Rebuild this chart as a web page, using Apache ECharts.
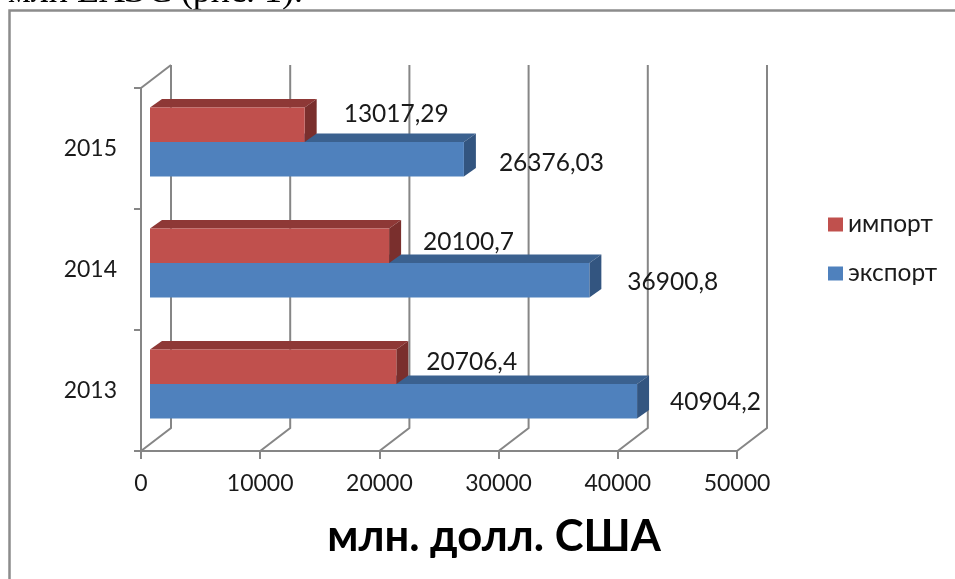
<!DOCTYPE html>
<html><head><meta charset="utf-8">
<style>html,body{margin:0;padding:0;background:#fff}#c{width:955px;height:579px}</style>
<script src="https://cdn.jsdelivr.net/npm/echarts@6/dist/echarts.min.js"></script>
</head><body><div id="c"></div>
<script>
const years = ['2013', '2014', '2015'];
const importValues = [20706.4, 20100.7, 13017.29];
const exportValues = [40904.2, 36900.8, 26376.03];
const importLabels = ['20706,4', '20100,7', '13017,29'];
const exportLabels = ['40904,2', '36900,8', '26376,03'];
const xTicks = [0, 10000, 20000, 30000, 40000, 50000];
const seriesNames = ['импорт', 'экспорт'];

const FONT = 'Lato, "Open Sans", sans-serif';
const GRID = '#868686';
// label nudges, px from the end of the bar's front face
const importNudge = [[30, -5], [34, -4], [39, -11]];
const exportNudge = [[33, 1], [38, 2], [35, 4]];

function barRenderer(cols, side, nudges, labels) {
  const DX = 9, DY = -6.5, SX = 12, SY = -8.5, H = 34.5;
  return function (params, api) {
    const i = api.value(1);
    const base = api.coord([0, i]);
    const end = api.coord([api.value(0), i]);
    const top = base[1] + DY + (side === 0 ? -H : 0);
    const x0 = base[0] + DX, x1 = end[0] + DX - 0.5, bot = top + H;
    const n = nudges[i];
    return {
      type: 'group',
      children: [
        { type: 'polygon', shape: { points: [[x0, top], [x1, top], [x1 + SX, top + SY], [x0 + SX, top + SY]] }, style: { fill: cols.top } },
        { type: 'polygon', shape: { points: [[x1, top], [x1 + SX, top + SY], [x1 + SX, bot + SY], [x1, bot]] }, style: { fill: cols.side } },
        { type: 'rect', shape: { x: x0, y: top, width: x1 - x0, height: H }, style: { fill: cols.face } },
        { type: 'text', z2: 50, style: { x: x1 + n[0], y: (top + bot) / 2 + n[1], text: labels[i], font: '24.5px ' + FONT, fill: '#1a1a1a', textAlign: 'left', textVerticalAlign: 'middle' } }
      ]
    };
  };
}

function wallRenderer(params, api) {
  const v = api.value(0);
  const bottom = api.coord([v, 0]);
  const top = api.coord([v, years.length - 1]);
  const band = api.size([0, 1])[1];
  const yBot = bottom[1] + band / 2, yTop = top[1] - band / 2;
  const x = bottom[0], BX = 30, BY = -23;
  const ls = { stroke: GRID, lineWidth: 2, fill: 'none' };
  const kids = [{ type: 'polyline', shape: { points: [[x, yBot], [x + BX, yBot + BY], [x + BX, yTop + BY]] }, style: ls }];
  if (v === 0) kids.push({ type: 'line', shape: { x1: x, y1: yTop, x2: x + BX, y2: yTop + BY }, style: ls });
  return { type: 'group', children: kids };
}

const rowsOf = vals => vals.map((v, i) => [v, i]);
const chart = echarts.init(document.getElementById('c'), null, { renderer: 'canvas' });
chart.setOption({
  animation: false,
  backgroundColor: '#fff',
  textStyle: { fontFamily: FONT },
  grid: { left: 141, right: 218, top: 88, bottom: 128, containLabel: false },
  xAxis: {
    type: 'value', min: 0, max: 50000, interval: 10000,
    splitLine: { show: false },
    axisLine: { show: true, lineStyle: { color: GRID, width: 2 } },
    axisTick: { show: true, length: 8, lineStyle: { color: GRID, width: 2 } },
    axisLabel: { color: '#1a1a1a', fontSize: 23, margin: 21, fontFamily: FONT, showMinLabel: true, showMaxLabel: true, formatter: v => String(v) }
  },
  yAxis: {
    type: 'category', data: years,
    axisLine: { show: true, lineStyle: { color: GRID, width: 2 } },
    axisTick: { show: true, length: 7, lineStyle: { color: GRID, width: 2 } },
    axisLabel: { color: '#1a1a1a', fontSize: 23, margin: 24, fontFamily: FONT, padding: [3, 0, 0, 0] }
  },
  legend: {
    orient: 'vertical', left: 823, top: 207, itemWidth: 15, itemHeight: 14, itemGap: 24, itemStyle: { borderWidth: 0 },
    icon: 'rect', data: seriesNames,
    textStyle: { color: '#1a1a1a', fontSize: 24.5, fontFamily: FONT }
  },
  graphic: [
    { type: 'text', z: 0, style: { x: 8, y: -7, text: 'млн ЕАЭС (рис. 1).', font: '36px "Liberation Serif", serif', fill: '#000', textAlign: 'left', textVerticalAlign: 'middle' } },
    { type: 'rect', z: 0, shape: { x: 0, y: 10, width: 955, height: 569 }, style: { fill: '#fff' } },
    { type: 'polyline', z: 0, shape: { points: [[9.5, 579], [9.5, 10.5], [955, 10.5]] }, style: { stroke: '#8c8c8c', lineWidth: 2.5, fill: 'none' } },
    { type: 'text', z: 10, style: { x: 494, y: 537, text: 'млн. долл. США', font: 'bold 43.5px ' + FONT, fill: '#000', textAlign: 'center', textVerticalAlign: 'middle' } }
  ],
  series: [
    { name: 'wall', type: 'custom', z: 1, silent: true, data: xTicks.map(v => [v, 0]), encode: { x: 0, y: 1 }, renderItem: wallRenderer },
    { name: seriesNames[0], type: 'custom', z: 4, itemStyle: { color: '#C0504D' }, data: rowsOf(importValues), encode: { x: 0, y: 1 },
      renderItem: barRenderer({ face: '#C0504D', top: '#8E3836', side: '#7A2F2D' }, 0, importNudge, importLabels) },
    { name: seriesNames[1], type: 'custom', z: 3, itemStyle: { color: '#4F81BD' }, data: rowsOf(exportValues), encode: { x: 0, y: 1 },
      renderItem: barRenderer({ face: '#4F81BD', top: '#3B618F', side: '#335580' }, 1, exportNudge, exportLabels) }
  ]
});
</script></body></html>
